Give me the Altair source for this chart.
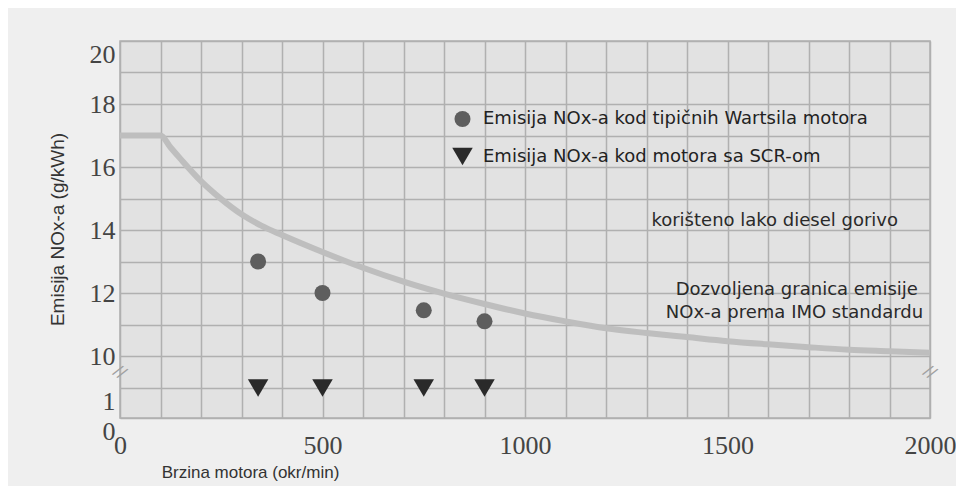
import altair as alt
import pandas as pd

# IMO limit curve
curve_x = [0, 100, 125, 150, 200, 250, 300, 350, 400, 500, 600, 700, 800, 900, 1000, 1100, 1200,
           1300, 1400, 1500, 1600, 1700, 1800, 1900, 2000]
curve_y = [17.0, 17.0, 16.62, 16.25, 15.55, 14.98, 14.5, 14.13, 13.84, 13.3, 12.8, 12.36, 11.98,
           11.65, 11.35, 11.1, 10.88, 10.73, 10.6, 10.47, 10.37, 10.28, 10.2, 10.15, 10.1]

# measured engines
speed = [341, 500, 750, 900]
wartsila = [13.0, 12.0, 11.45, 11.1]
scr = [1, 1, 1, 1]
series_names = ["Emisija NOx-a kod tipičnih Wartsila motora",
                "Emisija NOx-a kod motora sa SCR-om"]

# annotations
note_text = ["korišteno lako diesel gorivo", "Dozvoljena granica emisije",
             "NOx-a prema IMO standardu"]
note_x = [1921, 1970, 1983]
note_y = [14.29, 12.1, 11.37]

# axis break marks
break_x = [0, 2000]
break_y = [5.5, 5.5]

y_ticks = [0, 1] + list(range(10, 21))
x_ticks = list(range(0, 2001, 100))

curve_df = pd.DataFrame({"x": curve_x, "y": curve_y})
pts_df = pd.DataFrame({
    "x": speed + speed,
    "y": wartsila + scr,
    "s": [series_names[0]] * len(speed) + [series_names[1]] * len(speed),
})
note_df = pd.DataFrame({"x": note_x, "y": note_y, "t": note_text})
break_df = pd.DataFrame({"x": break_x, "y": break_y})

W, H = 810, 377

xscale = alt.Scale(domain=[0, 2000], nice=False, zero=False)
yscale = alt.Scale(domain=[0, 1, 10, 20], range=[377, 347, 315, 0], nice=False, zero=False)

x_axis = alt.Axis(
    values=x_ticks, format="d", tickCount=60,
    labelExpr="datum.value % 500 == 0 ? datum.label : ''",
    title="Brzina motora (okr/min)", titleX=130, titleY=59, titleAnchor="start",
    titleAlign="center", titleBaseline="alphabetic",
    titleFont="Liberation Sans", titleFontSize=17, titleFontWeight="normal", titleColor="#333333",
    labelFont="Liberation Serif", labelFontSize=26, labelColor="#444444",
    labelPadding=14, labelFlush=False, labelOverlap=False,
    ticks=False, domain=False, grid=True, gridColor="#b0b0b0", gridWidth=1.5,
)
y_axis = alt.Axis(
    values=y_ticks, tickCount=60, format="d",
    labelExpr="(datum.value <= 1 || datum.value % 2 == 0) ? datum.label : ''",
    labelBaseline={"condition": {"test": "datum.value <= 1 || datum.value == 20", "value": "top"},
                   "value": "middle"},
    title="Emisija NOx-a (g/kWh)", titleX=-63, titleY=188, titleAngle=-90,
    titleAlign="center", titleBaseline="middle", titleAnchor="start",
    titleFont="Liberation Sans", titleFontSize=19, titleFontWeight="normal", titleColor="#333333",
    labelFont="Liberation Serif", labelFontSize=26, labelColor="#444444",
    labelPadding=5, labelFlush=False, labelOverlap=False,
    ticks=False, domain=False, grid=True, gridColor="#b0b0b0", gridWidth=1.5,
)

line = alt.Chart(curve_df).mark_line(color="#bebebe", strokeWidth=6, interpolate="monotone").encode(
    x=alt.X("x:Q", scale=xscale, axis=x_axis),
    y=alt.Y("y:Q", scale=yscale, axis=y_axis),
)

def legend():
    return alt.Legend(title=None, orient="none", legendX=332, legendY=69,
                      labelFont="DejaVu Sans", labelFontSize=18, labelColor="#222222",
                      labelLimit=600, rowPadding=18, symbolStrokeWidth=0, labelOffset=10)

points = alt.Chart(pts_df).mark_point(filled=True, opacity=1).encode(
    x=alt.X("x:Q", scale=xscale),
    y=alt.Y("y:Q", scale=yscale),
    shape=alt.Shape("s:N", scale=alt.Scale(domain=series_names, range=["circle", "triangle-down"]),
                    legend=legend()),
    color=alt.Color("s:N", scale=alt.Scale(domain=series_names, range=["#5e5e5e", "#2a2a2a"]),
                    legend=legend()),
    size=alt.Size("s:N", scale=alt.Scale(domain=series_names, range=[256, 420]),
                  legend=legend()),
)

notes = alt.Chart(note_df).mark_text(align="right", baseline="middle", font="DejaVu Sans",
                                     fontSize=18, color="#2a2a2a").encode(
    x=alt.X("x:Q", scale=xscale),
    y=alt.Y("y:Q", scale=yscale),
    text="t:N",
)

breaks = alt.Chart(break_df).mark_text(text="//", font="DejaVu Sans", fontSize=16, color="#a0a0a0",
                                       angle=35, align="center", baseline="middle").encode(
    x=alt.X("x:Q", scale=xscale),
    y=alt.Y("y:Q", scale=yscale),
)

chart = alt.layer(line, points, notes, breaks).properties(
    width=W, height=H,
    autosize=alt.AutoSizeParams(type="none"),
    padding={"left": 112, "top": 33, "right": 26, "bottom": 68},
    background="#efefef",
).configure_view(fill="#e2e2e2", stroke="#b0b0b0", strokeWidth=1.5)

chart.save("out.html", embed_options={"renderer": "svg", "actions": False})
